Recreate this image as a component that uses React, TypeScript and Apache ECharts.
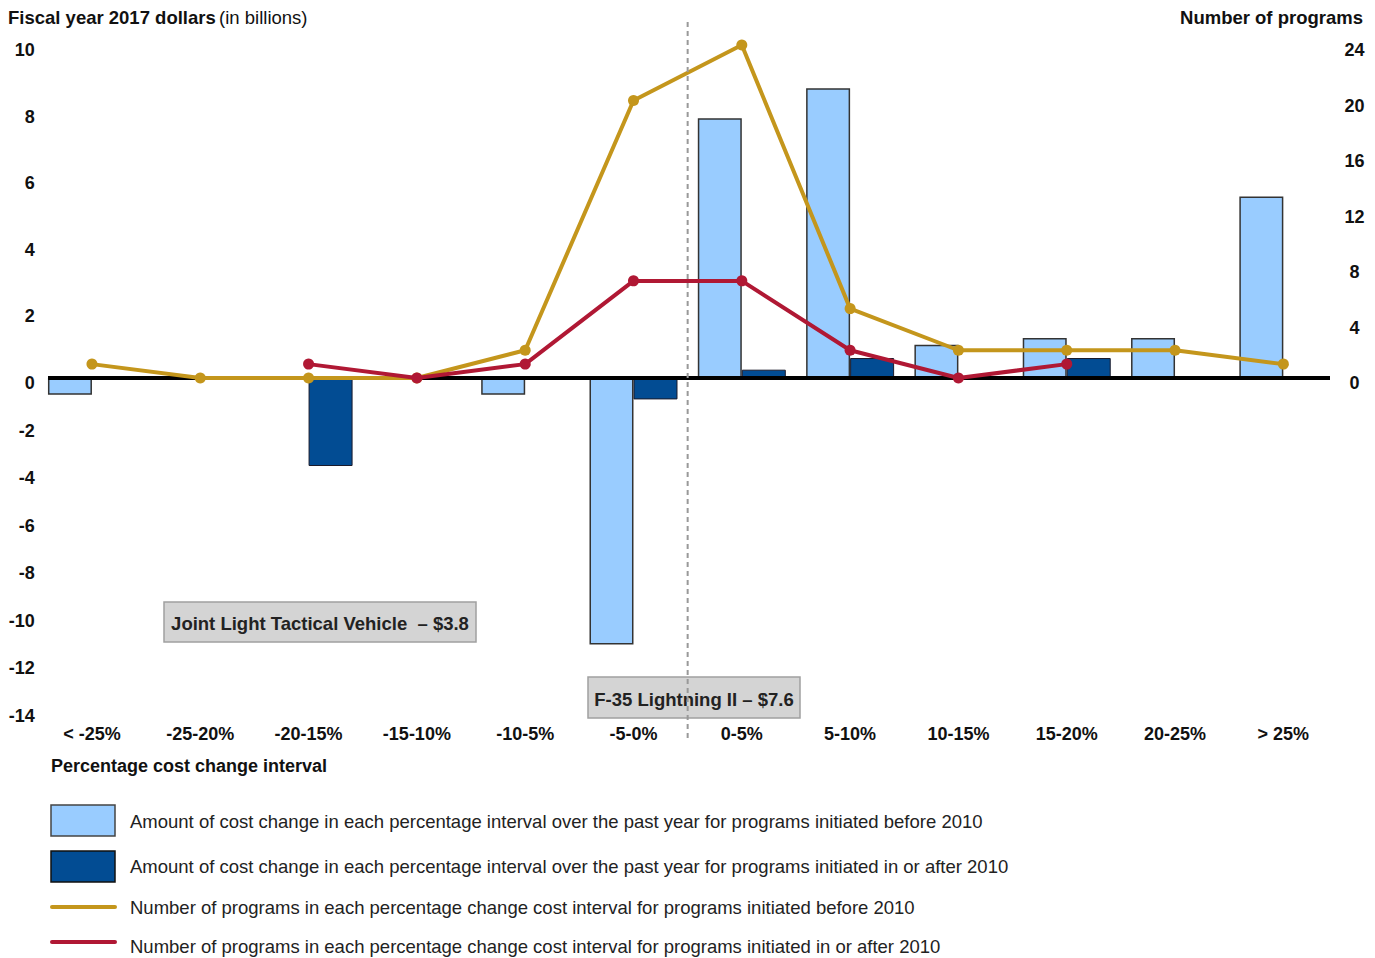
import React, { useEffect, useRef } from "react";
import * as echarts from "echarts";

const categories = ["< -25%", "-25-20%", "-20-15%", "-15-10%", "-10-5%", "-5-0%", "0-5%", "5-10%", "10-15%", "15-20%", "20-25%", "> 25%"];
const costBefore2010 = [-0.7, 0, 0, 0, -0.7, -11.2, 7.8, 8.7, 1.0, 1.2, 1.2, 5.45];
const costAfter2010 = [0, 0, -3.7, 0, -0.06, -0.9, 0.25, 0.6, 0, 0.6, 0, 0];
const programsBefore2010 = [1, 0, 0, 0, 2, 20, 24, 5, 2, 2, 2, 1];
const programsAfter2010: (number | null)[] = [null, null, 1, 0, 1, 7, 7, 2, 0, 1, null, null];
const leftPosTicks = [0, 10, 2];
const leftNegTicks = [-14, 0, 2];
const rightTicks = [0, 24, 4];

const legendLabels = [
  "Amount of cost change in each percentage interval over the past year for programs initiated before 2010",
  "Amount of cost change in each percentage interval over the past year for programs initiated in or after 2010",
  "Number of programs in each percentage change cost interval for programs initiated before 2010",
  "Number of programs in each percentage change cost interval for programs initiated in or after 2010",
];

const FONT = "'Liberation Sans', Arial, Helvetica, sans-serif";
const LIGHT = "#99CCFF";
const DARK = "#024C93";
const GOLD = "#C4961C";
const RED = "#B01834";

const GL = 37.8;
const GR = 37.5;
const TOP = 45;
const H = 333;
const ZERO_Y = TOP + H;

export default function App() {
  const ref = useRef<HTMLDivElement>(null);
  useEffect(() => {
    if (!ref.current) return;
    const chart = echarts.init(ref.current, null, { renderer: "svg" });
    const W = 1375;
    const catW = (W - GL - GR) / categories.length;
    const splitX = GL + catW * 6;
    const labelStyle = { fontFamily: FONT, fontSize: 18, fontWeight: "bold", color: "#111" };
    const tickRich = { t: { fontFamily: FONT, fontSize: 18, fontWeight: "bold", color: "#111", padding: [10, 0, 0, 0] } };
    const barBase = { type: "bar", barWidth: 44, barGap: "0%", z: 1 };
    chart.setOption({
      animation: false,
      grid: [
        { left: GL, right: GR, top: TOP, height: H },
        { left: GL, right: GR, top: ZERO_Y, height: H },
      ],
      xAxis: [
        { type: "category", gridIndex: 0, data: categories, show: false },
        {
          type: "category", gridIndex: 1, data: categories, position: "bottom",
          axisLine: { show: false }, axisTick: { show: false },
          axisLabel: { ...labelStyle, margin: 14, interval: 0 },
        },
      ],
      yAxis: [
        {
          type: "value", gridIndex: 0, min: leftPosTicks[0], max: leftPosTicks[1], interval: leftPosTicks[2],
          axisLine: { show: false }, axisTick: { show: false }, splitLine: { show: false },
          axisLabel: { ...labelStyle, margin: 3, formatter: (v: number) => `{t|${v}}`, rich: tickRich },
        },
        {
          type: "value", gridIndex: 0, position: "right", min: rightTicks[0], max: rightTicks[1], interval: rightTicks[2],
          axisLine: { show: false }, axisTick: { show: false }, splitLine: { show: false },
          axisLabel: { ...labelStyle, margin: 17, align: "center", formatter: (v: number) => `{t|${v}}`, rich: tickRich },
        },
        {
          type: "value", gridIndex: 1, min: leftNegTicks[0], max: leftNegTicks[1], interval: leftNegTicks[2],
          axisLine: { show: false }, axisTick: { show: false }, splitLine: { show: false },
          axisLabel: { ...labelStyle, margin: 3, formatter: (v: number) => (v === 0 ? "" : `{t|${v}}`), rich: tickRich },
        },
      ],
      series: [
        { ...barBase, xAxisIndex: 0, yAxisIndex: 0, data: costBefore2010.map((v) => (v > 0 ? v : "-")), itemStyle: { color: LIGHT, borderColor: "#333", borderWidth: 1.5 } },
        { ...barBase, xAxisIndex: 0, yAxisIndex: 0, data: costAfter2010.map((v) => (v > 0 ? v : "-")), itemStyle: { color: DARK, borderColor: "#1a1a2a", borderWidth: 1 } },
        { ...barBase, xAxisIndex: 1, yAxisIndex: 2, data: costBefore2010.map((v) => (v < 0 ? v : "-")), itemStyle: { color: LIGHT, borderColor: "#333", borderWidth: 1.5 } },
        { ...barBase, xAxisIndex: 1, yAxisIndex: 2, data: costAfter2010.map((v) => (v < 0 ? v : "-")), itemStyle: { color: DARK, borderColor: "#1a1a2a", borderWidth: 1 } },
        {
          type: "line", xAxisIndex: 0, yAxisIndex: 1, data: programsBefore2010, z: 4,
          symbol: "circle", symbolSize: 11, lineStyle: { color: GOLD, width: 4 }, itemStyle: { color: GOLD },
        },
        {
          type: "line", xAxisIndex: 0, yAxisIndex: 1, data: programsAfter2010, z: 5,
          symbol: "circle", symbolSize: 11, lineStyle: { color: RED, width: 4 }, itemStyle: { color: RED },
        },
      ],
      graphic: [
        { type: "line", z: 3, shape: { x1: 48, y1: ZERO_Y, x2: 1330, y2: ZERO_Y }, style: { stroke: "#000", lineWidth: 4 } },
        {
          type: "text", z: 10, x: 8, y: 17,
          style: {
            text: "{b|Fiscal year 2017 dollars} {n|(in billions)}", verticalAlign: "middle",
            rich: {
              b: { fontFamily: FONT, fontSize: 18.5, fontWeight: "bold", fill: "#111" },
              n: { fontFamily: FONT, fontSize: 18.5, fill: "#111" },
            },
          },
        },
        { type: "text", z: 10, x: 1363, y: 17, style: { text: "Number of programs", align: "right", verticalAlign: "middle", font: `bold 18.5px ${FONT}`, fill: "#111" } },
        { type: "text", z: 10, x: 51, y: 766, style: { text: "Percentage cost change interval", verticalAlign: "middle", font: `bold 18px ${FONT}`, fill: "#111" } },
        { type: "rect", z: 6, shape: { x: 164, y: 602, width: 312, height: 40 }, style: { fill: "#D4D4D4", stroke: "#A0A0A0", lineWidth: 1.5 } },
        { type: "text", z: 7, x: 320, y: 623, style: { text: "Joint Light Tactical Vehicle  – $3.8", align: "center", verticalAlign: "middle", font: `bold 18.5px ${FONT}`, fill: "#222" } },
        { type: "rect", z: 6, shape: { x: 588, y: 677, width: 212, height: 41 }, style: { fill: "#D4D4D4", stroke: "#A0A0A0", lineWidth: 1.5 } },
        { type: "text", z: 7, x: 694, y: 699, style: { text: "F-35 Lightning II – $7.6", align: "center", verticalAlign: "middle", font: `bold 18.5px ${FONT}`, fill: "#222" } },
        { type: "line", z: 8, shape: { x1: splitX, y1: 22, x2: splitX, y2: 742 }, style: { stroke: "#999", lineWidth: 2, lineDash: [5, 4] } },
        { type: "rect", z: 10, shape: { x: 51, y: 805, width: 64, height: 31 }, style: { fill: LIGHT, stroke: "#444", lineWidth: 1.5 } },
        { type: "rect", z: 10, shape: { x: 51, y: 851, width: 64, height: 31 }, style: { fill: DARK, stroke: "#111", lineWidth: 1.5 } },
        { type: "line", z: 10, shape: { x1: 52, y1: 907, x2: 115, y2: 907 }, style: { stroke: GOLD, lineWidth: 4, lineCap: "round" } },
        { type: "line", z: 10, shape: { x1: 52, y1: 942, x2: 115, y2: 942 }, style: { stroke: RED, lineWidth: 4, lineCap: "round" } },
        ...legendLabels.map((t, i) => ({
          type: "text", z: 10, x: 130, y: [821, 866, 907, 946][i],
          style: { text: t, verticalAlign: "middle", font: `18.5px ${FONT}`, fill: "#222" },
        })),
      ],
    });
    return () => chart.dispose();
  }, []);
  return <div ref={ref} style={{ position: "fixed", left: 0, top: 0, width: 1375, height: 958, background: "#fff" }} />;
}
